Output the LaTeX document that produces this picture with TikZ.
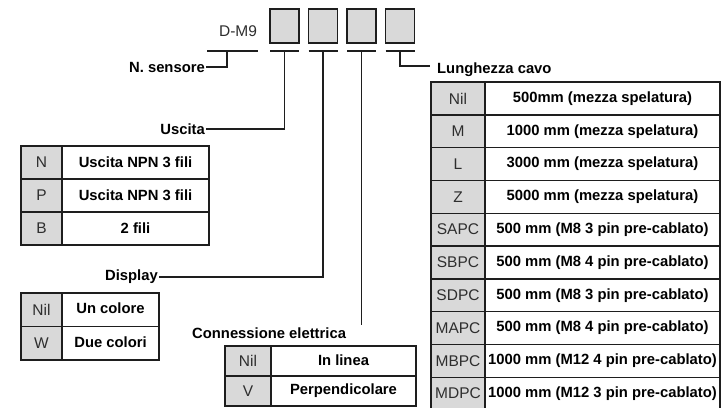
\documentclass[tikz,border=0pt]{standalone}
\usepackage{fontspec}
\setmainfont{Liberation Sans}
\usetikzlibrary{positioning}

\definecolor{cellgray}{HTML}{D9D9D9}
\definecolor{linegray}{HTML}{1E1E1E}
\definecolor{codetext}{HTML}{2E2E2E}

\tikzset{
  codebox/.style={draw=linegray, line width=1.5pt, fill=cellgray, minimum width=29pt, minimum height=34pt, inner sep=0pt, outer sep=0pt},
  codecell/.style={draw=linegray, line width=1.4pt, fill=cellgray, inner sep=0pt, outer sep=0pt, font=\fontsize{15.5}{17}\selectfont, text=codetext},
  desccell/.style={draw=linegray, line width=1.4pt, fill=white, inner sep=0pt, outer sep=0pt, font=\fontsize{14.8}{17}\selectfont\bfseries},
  leader/.style={draw=linegray, line width=1.5pt},
  tag/.style={font=\fontsize{14.8}{17}\selectfont\bfseries, inner sep=1pt},
}

\begin{document}
\begin{tikzpicture}[x=1pt, y=-1pt]

      \clip (0,0) rectangle (722,407);

      % codice D-M9 e caselle
      \node[font=\fontsize{15.5}{18}\selectfont, text=codetext] (dm9) at (238,31) {D-M9};
      \node[codebox] (b1) at (284.5,26) {};
      \node[codebox, right=9.5pt of b1] (b2) {};
      \node[codebox, right=9.5pt of b2] (b3) {};
      \node[codebox, right=9.5pt of b3] (b4) {};

      % barre sotto il codice
      \coordinate (s0) at (227,51);
      \draw[leader] (207,51) -- (258,51);
      \foreach \i in {1,...,4} {
        \coordinate (s\i) at ([yshift=-8pt]b\i.south);
        \draw[leader] ([yshift=-8pt]b\i.south west) -- ([yshift=-8pt]b\i.south east);
      }

      % etichette e linee di richiamo
      \node[tag, anchor=east] (sens) at (206,67) {N. sensore};
      \draw[leader] (s0) |- (sens.east);
      \node[tag, anchor=east] (usc) at (206,129) {Uscita};
      \draw[leader] (s1) |- (usc.east);
      \node[tag, anchor=east] (disp) at (159,277) {Display};
      \draw[leader] (s2) |- (disp.east);
      \node[tag, anchor=west] (conn) at (191,333) {Connessione elettrica};
      \path (s3) ++(0,274) coordinate (e3);
      \draw[leader] (s3) -- (e3);
      \node[tag, anchor=west] (lung) at (436,70) {Lunghezza cavo};
      \draw[leader] (s4) |- ([xshift=-6pt,yshift=4pt]lung.west);

      % tabella Uscita
      \foreach \code/\desc [count=\i] in {N/Uscita NPN 3 fili, P/Uscita NPN 3 fili, B/2 fili} {
        \node[codecell, minimum width=41pt, minimum height=33pt] (uc\i) at (41.5,{146+33*(\i-0.5)}) {\code};
        \node[desccell, minimum width=147pt, minimum height=33pt, right=0pt of uc\i] (ud\i) {\desc};
      }

      % tabella Display
      \foreach \code/\desc [count=\i] in {Nil/Un colore, W/Due colori} {
        \node[codecell, minimum width=41pt, minimum height=33.5pt] (dc\i) at (41.5,{293+33.5*(\i-0.5)}) {\code};
        \node[desccell, minimum width=97pt, minimum height=33.5pt, right=0pt of dc\i] (dd\i) {\raisebox{3pt}{\desc}};
      }

      % tabella Connessione elettrica
      \foreach \code/\desc [count=\i] in {Nil/In linea, V/Perpendicolare} {
        \node[codecell, minimum width=46pt, minimum height=30pt] (cc\i) at (248,{346+30*(\i-0.5)}) {\code};
        \node[desccell, minimum width=145pt, minimum height=30pt, right=0pt of cc\i] (cd\i) {\raisebox{2pt}{\desc}};
      }

      % tabella Lunghezza cavo
      \foreach \code/\desc [count=\i] in {Nil/500mm (mezza spelatura), M/1000 mm (mezza spelatura),
          L/3000 mm (mezza spelatura), Z/5000 mm (mezza spelatura),
          SAPC/500 mm (M8 3 pin pre-cablato), SBPC/500 mm (M8 4 pin pre-cablato),
          SDPC/500 mm (M8 3 pin pre-cablato), MAPC/500 mm (M8 4 pin pre-cablato),
          MBPC/1000 mm (M12 4 pin pre-cablato), MDPC/1000 mm (M12 3 pin pre-cablato)} {
        \node[codecell, minimum width=54pt, minimum height=32.8pt] (lc\i) at (458,{82+32.8*(\i-0.5)}) {\code};
        \node[desccell, minimum width=235pt, minimum height=32.8pt, right=0pt of lc\i] (ld\i) {\desc};
      }

    \end{tikzpicture}
\end{document}
